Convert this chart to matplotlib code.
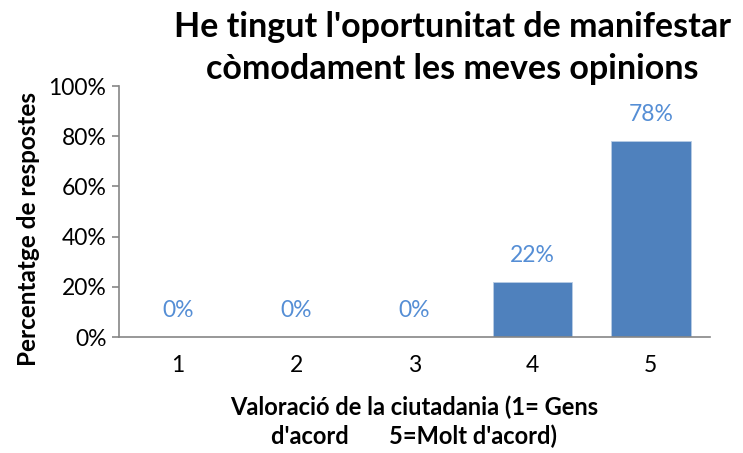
import matplotlib
matplotlib.use('Agg')
import matplotlib.pyplot as plt
import numpy as np

plt.rcParams['font.family'] = ['Lato', 'DejaVu Sans']

categories = ['1', '2', '3', '4', '5']
values = [0, 0, 0, 22, 78]
yticks = [0, 20, 40, 60, 80, 100]

bar_color = '#4F81BD'
label_color = '#558ED5'
axis_color = '#868686'

fig = plt.figure(figsize=(7.43, 4.53), dpi=100)
ax = fig.add_axes([0.160, 0.256, 0.7956, 0.554])

x = np.arange(len(categories))
ax.bar(x, values, width=0.67, color=bar_color, edgecolor='#B9CDE5', linewidth=0.6)

for xi, v in zip(x, values):
    ax.text(xi, v + 6.5, f'{v}%', ha='center', va='bottom', fontsize=16.5, color=label_color)

ax.set_xlim(-0.5, len(categories) - 0.5)
ax.set_ylim(0, 100)
ax.set_yticks(yticks)
ax.set_yticklabels([f'{t}%' for t in yticks], fontsize=16.5)
ax.set_xticks(x)
ax.set_xticklabels(categories, fontsize=16.5)
ax.tick_params(axis='x', length=0, pad=13)
ax.tick_params(axis='y', length=5, color=axis_color, width=1.2, pad=4)

for s in ['top', 'right']:
    ax.spines[s].set_visible(False)
for s in ['left', 'bottom']:
    ax.spines[s].set_color(axis_color)
    ax.spines[s].set_linewidth(1.2)

ax.set_ylabel('Percentatge de respostes', fontsize=17.5, fontweight='bold')
ax.yaxis.set_label_coords(-0.133, 0.43)
ax.set_xlabel("Valoració de la ciutadania (1= Gens\nd'acord       5=Molt d'acord)",
              fontsize=17, fontweight='bold', labelpad=14, linespacing=1.3)

fig.text(0.609, 0.975, "He tingut l'oportunitat de manifestar\ncòmodament les meves opinions",
         ha='center', va='top', fontsize=24.5, fontweight='bold', linespacing=1.36)

plt.savefig('out.png', dpi=100)
